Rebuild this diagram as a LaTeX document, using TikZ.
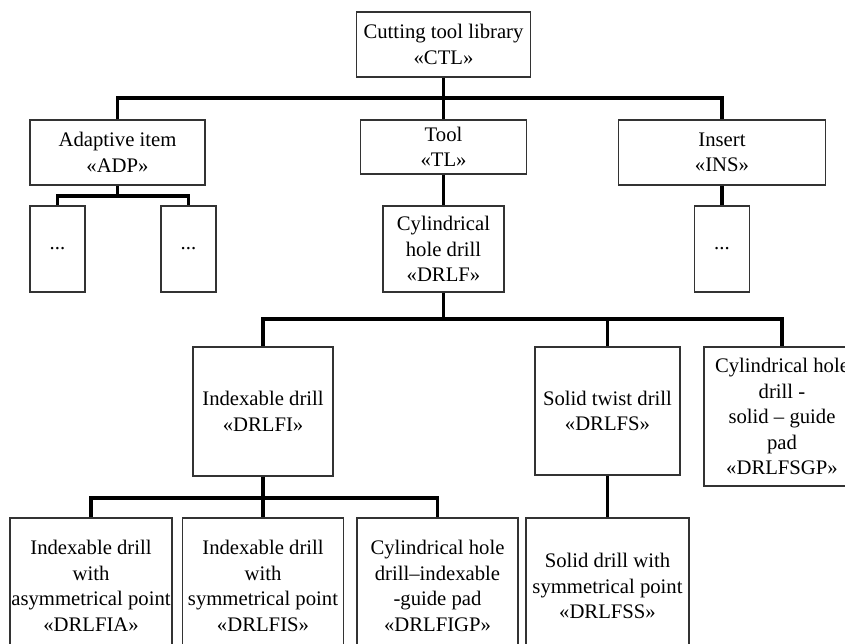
\documentclass[tikz,border=0pt]{standalone}
\usepackage{fontspec}
\setmainfont{Liberation Serif}
\begin{document}
\begin{tikzpicture}[x=1pt,y=-1pt,
  box/.style={draw=black!80, line width=1.1pt, align=center, inner sep=0pt,
    font=\fontsize{20.7}{25.5}\selectfont, anchor=center},
  link/.style={line width=3.4pt, black, line join=miter}]
\clip (0,0) rectangle (845,644);
\fill[white] (0,0) rectangle (845,644);
% level 0
\node[box, minimum width=174pt, minimum height=65pt] (ctl) at (443.5,44.5) {Cutting tool library\\«CTL»};
% level 1
\node[box, minimum width=175pt, minimum height=65pt] (adp) at (117.5,152.5) {Adaptive item\\«ADP»};
\node[box, minimum width=166pt, minimum height=54pt] (tl) at (443.5,147) {Tool\\«TL»};
\node[box, minimum width=207pt, minimum height=65pt] (ins) at (722,152.5) {Insert\\«INS»};
% level 2
\node[box, minimum width=55pt, minimum height=86pt] (d1) at (57.5,249) {...};
\node[box, minimum width=55pt, minimum height=86pt] (d2) at (188.5,249) {...};
\node[box, minimum width=121pt, minimum height=86pt] (drlf) at (443.5,249) {Cylindrical\\hole drill\\«DRLF»};
\node[box, minimum width=55pt, minimum height=86pt] (d3) at (722,249) {...};
% level 3
\node[box, minimum width=140pt, minimum height=129pt] (drlfi) at (263,411.5) {Indexable drill\\«DRLFI»};
\node[box, minimum width=145pt, minimum height=128pt] (drlfs) at (607.5,411) {Solid twist drill\\«DRLFS»};
\node[box, minimum width=156pt, minimum height=139pt] (drlfsgp) at (782,416.5) {Cylindrical hole\\drill -\\solid – guide\\pad\\«DRLFSGP»};
% level 4
\node[box, minimum width=162pt, minimum height=136pt] (drlfia) at (91,586) {Indexable drill\\with\\asymmetrical point\\«DRLFIA»};
\node[box, minimum width=161pt, minimum height=136pt] (drlfis) at (263,586) {Indexable drill\\with\\symmetrical point\\«DRLFIS»};
\node[box, minimum width=161pt, minimum height=136pt] (drlfigp) at (437.5,586) {Cylindrical hole\\drill–indexable\\-guide pad\\«DRLFIGP»};
\node[box, minimum width=163pt, minimum height=136pt] (drlfss) at (607.5,586) {Solid drill with\\symmetrical point\\«DRLFSS»};
% bus coordinates
\coordinate (b1) at (443.5,98);
\coordinate (b2) at (117.5,196);
\coordinate (b3) at (443.5,319);
\coordinate (b4) at (263,498);
% connectors
\draw[link] (ctl.south) -- (b1);
\draw[link] (adp.north) |- (b1) -| (ins.north);
\draw[link] (b1) -- (tl.north);
\draw[link] (adp.south) -- (b2);
\draw[link] (d1.north) |- (b2) -| (d2.north);
\draw[link] (tl.south) -- (drlf.north);
\draw[link] (ins.south) -- (d3.north);
\draw[link] (drlf.south) -- (b3);
\draw[link] (drlfi.north) |- (b3) -| (drlfsgp.north);
\draw[link] (b3 -| drlfs.north) -- (drlfs.north);
\draw[link] (drlfi.south) -- (b4);
\draw[link] (drlfia.north) |- (b4) -| (drlfigp.north);
\draw[link] (b4) -- (drlfis.north);
\draw[link] (drlfs.south) -- (drlfss.north);
\end{tikzpicture}
\end{document}
